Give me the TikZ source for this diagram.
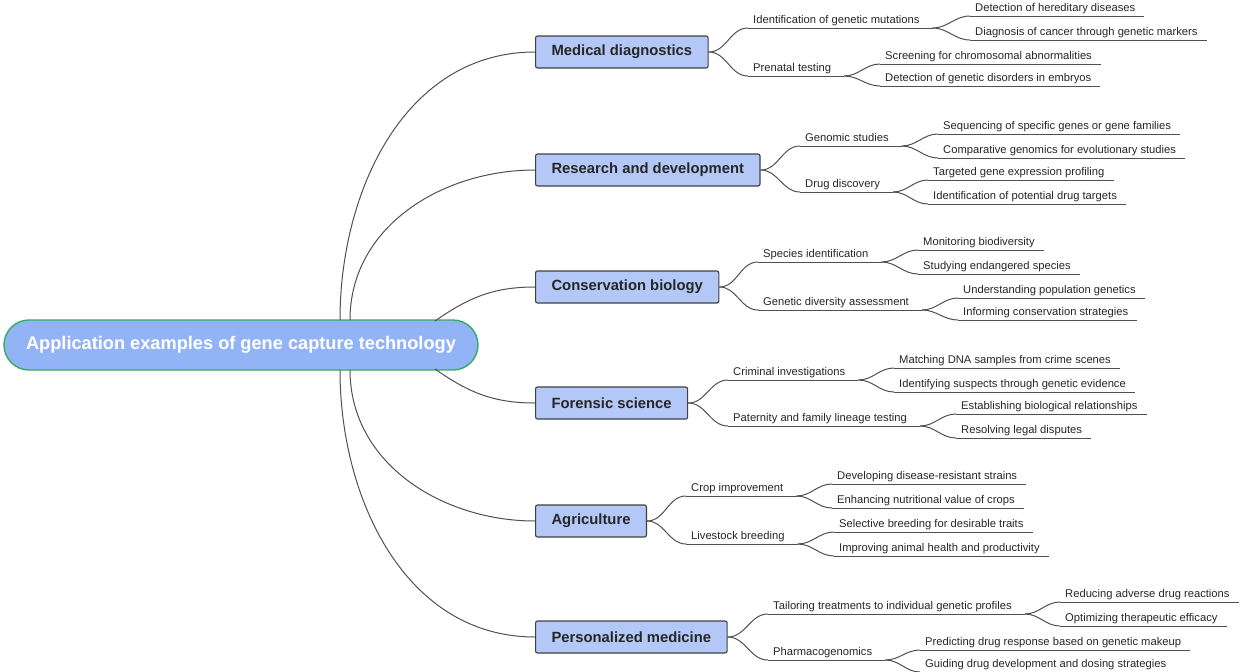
\documentclass[tikz,border=0pt]{standalone}
\usepackage{fontspec}
\setmainfont{Liberation Sans}
\usetikzlibrary{positioning}

\definecolor{rootfill}{HTML}{93B3F7}
\definecolor{rootline}{HTML}{2EAF62}
\definecolor{topicfill}{HTML}{B3C8F7}
\definecolor{linkgray}{HTML}{505050}

\begin{document}
\begin{tikzpicture}[
    x = 1pt, y = -1pt,
    rootnode/.style = {draw=rootline, line width=1.4pt, fill=rootfill, rounded corners=25pt,
        minimum width=474pt, minimum height=50pt, text=white,
        font=\fontsize{18.2}{21}\selectfont\bfseries},
    topic/.style = {draw=black!75, line width=1.1pt, fill=topicfill, rounded corners=2pt,
        anchor=west, minimum height=32pt, inner xsep=16pt,
        font=\fontsize{14.8}{17}\selectfont\bfseries, text=black!85},
    sub/.style = {anchor=south west, inner xsep=5pt, inner ysep=2pt, text depth=2pt,
        font=\fontsize{11.2}{13}\selectfont, text=black!85},
    leaf/.style = {sub},
    link/.style = {draw=linkgray, line width=1pt},
]
\useasboundingbox (0, 0) rectangle (1240, 672);

% root
\node[rootnode] (root) at (241, 345) {Application examples of gene capture technology};

% topics
\node[topic] (med) at (535, 52) {Medical diagnostics};
\node[topic] (res) at (535, 170) {Research and development};
\node[topic] (con) at (535, 287) {Conservation biology};
\node[topic] (for) at (535, 403) {Forensic science};
\node[topic] (agr) at (535, 521) {Agriculture};
\node[topic] (per) at (535, 637) {Personalized medicine};

\coordinate (r1) at (340, 320);
\coordinate (r2) at (350, 320);
\coordinate (r3) at (435, 321);
\coordinate (r4) at (435, 369);
\coordinate (r5) at (350, 370);
\coordinate (r6) at (340, 370);

\draw[link] (r1) to[out=90, in=180] (med.west);
\draw[link] (r2) to[out=90, in=180] (res.west);
\draw[link] (r3) to[out=35, in=180] (con.west);
\draw[link] (r4) to[out=-35, in=180] (for.west);
\draw[link] (r5) to[out=-90, in=180] (agr.west);
\draw[link] (r6) to[out=-90, in=180] (per.west);

% medical diagnostics
\node[sub] (med1) at (748, 28) {Identification of genetic mutations};
\node[sub] (med2) at (748, 76) {Prenatal testing};
\node[leaf] (med11) at (970, 16) {Detection of hereditary diseases};
\node[leaf] (med12) at (970, 40) {Diagnosis of cancer through genetic markers};
\node[leaf] (med21) at (880, 64) {Screening for chromosomal abnormalities};
\node[leaf] (med22) at (880, 86) {Detection of genetic disorders in embryos};

% research and development
\node[sub] (res1) at (800, 146) {Genomic studies};
\node[sub] (res2) at (800, 192) {Drug discovery};
\node[leaf] (res11) at (938, 134) {Sequencing of specific genes or gene families};
\node[leaf] (res12) at (938, 158) {Comparative genomics for evolutionary studies};
\node[leaf] (res21) at (928, 180) {Targeted gene expression profiling};
\node[leaf] (res22) at (928, 204) {Identification of potential drug targets};

% conservation biology
\node[sub] (con1) at (758, 262) {Species identification};
\node[sub] (con2) at (758, 310) {Genetic diversity assessment};
\node[leaf] (con11) at (918, 250) {Monitoring biodiversity};
\node[leaf] (con12) at (918, 274) {Studying endangered species};
\node[leaf] (con21) at (958, 298) {Understanding population genetics};
\node[leaf] (con22) at (958, 320) {Informing conservation strategies};

% forensic science
\node[sub] (for1) at (728, 380) {Criminal investigations};
\node[sub] (for2) at (728, 426) {Paternity and family lineage testing};
\node[leaf] (for11) at (894, 368) {Matching DNA samples from crime scenes};
\node[leaf] (for12) at (894, 392) {Identifying suspects through genetic evidence};
\node[leaf] (for21) at (956, 414) {Establishing biological relationships};
\node[leaf] (for22) at (956, 438) {Resolving legal disputes};

% agriculture
\node[sub] (agr1) at (686, 496) {Crop improvement};
\node[sub] (agr2) at (686, 544) {Livestock breeding};
\node[leaf] (agr11) at (832, 484) {Developing disease-resistant strains};
\node[leaf] (agr12) at (832, 508) {Enhancing nutritional value of crops};
\node[leaf] (agr21) at (834, 532) {Selective breeding for desirable traits};
\node[leaf] (agr22) at (834, 556) {Improving animal health and productivity};

% personalized medicine
\node[sub] (per1) at (768, 614) {Tailoring treatments to individual genetic profiles};
\node[sub] (per2) at (768, 660) {Pharmacogenomics};
\node[leaf] (per11) at (1060, 602) {Reducing adverse drug reactions};
\node[leaf] (per12) at (1060, 626) {Optimizing therapeutic efficacy};
\node[leaf] (per21) at (920, 650) {Predicting drug response based on genetic makeup};
\node[leaf] (per22) at (920, 672) {Guiding drug development and dosing strategies};

% underlines and links
\foreach \t in {med, res, con, for, agr, per} {
    \foreach \s in {1, 2} {
        \draw[link] (\t\s.south west) -- ([xshift=8pt]\t\s.south east);
        \draw[link] (\t.east) to[out=0, in=180] (\t\s.south west);
        \foreach \l in {1, 2} {
            \draw[link] (\t\s\l.south west) -- ([xshift=4pt]\t\s\l.south east);
            \draw[link] ([xshift=8pt]\t\s.south east) to[out=0, in=180] (\t\s\l.south west);
        }
    }
}

\end{tikzpicture}
\end{document}
